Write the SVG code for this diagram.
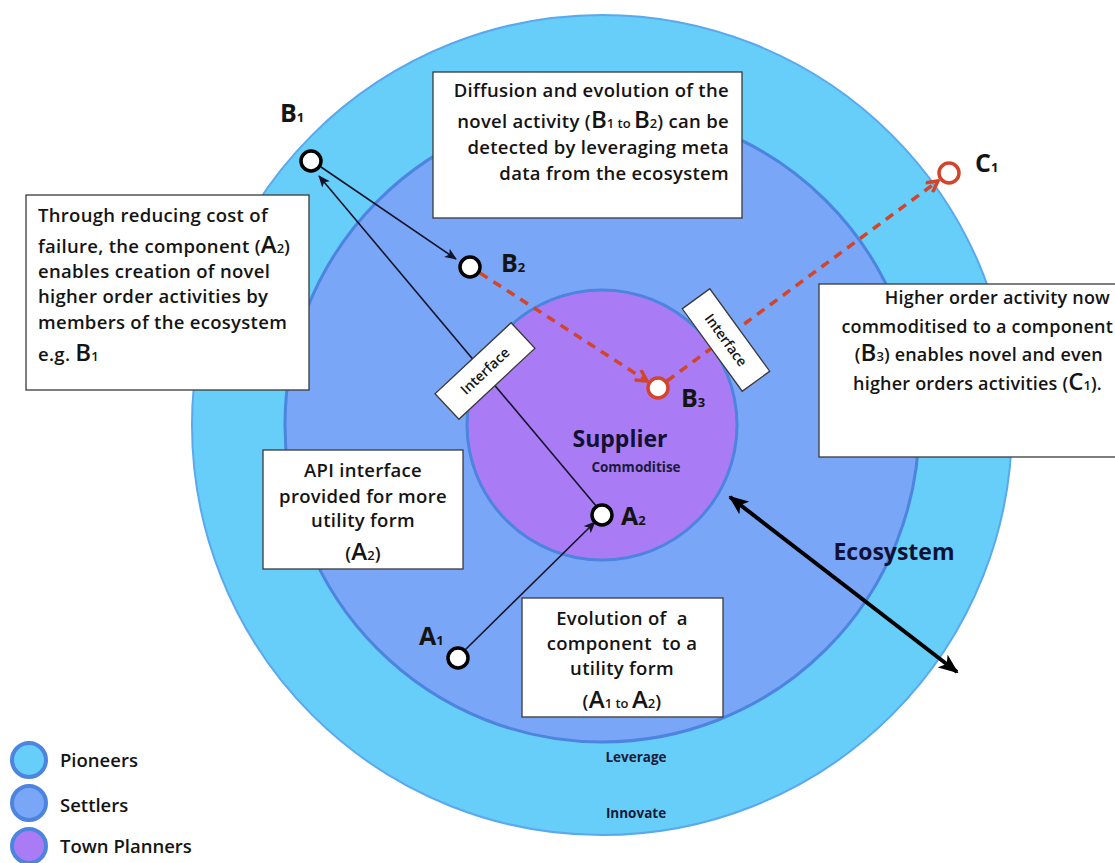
<svg xmlns="http://www.w3.org/2000/svg" width="1115" height="863" viewBox="0 0 1115 863">
<style>
text { font-family: "Open Sans", Lato, "Liberation Sans", sans-serif; fill: #141414; font-weight: 600; }
.body { font-size: 18.5px; letter-spacing: 0.3px; }
.rbody { font-size: 18px; letter-spacing: 0.2px; }
.big { font-size: 24px; letter-spacing: 0; }
.sub { font-size: 13px; letter-spacing: 0; }
.box { fill: #ffffff; stroke: #3a3a3a; stroke-width: 1.3; }
.node { fill: #ffffff; stroke: #000000; stroke-width: 3.5; }
.rnode { fill: #ffffff; stroke: #d2452b; stroke-width: 3.5; }
.lbl { font-size: 25px; font-weight: 700; }
.lsub { font-size: 13px; font-weight: 700; }
.conn { stroke: #14142a; stroke-width: 1.6; fill: none; }
.red { stroke: #d2452b; stroke-width: 3.5; stroke-dasharray: 9 7; fill: none; }
.eco { stroke: #000; stroke-width: 4; fill: none; }
.ring { stroke: #4c84df; stroke-width: 3; }
.cap { font-size: 13.5px; font-weight: 700; fill: #1b1b3a; }
.head { font-size: 23px; font-weight: 700; fill: #111133; }
.leg { font-size: 18.5px; }
</style>
<defs>
<marker id="ah" viewBox="0 0 12 10" refX="11" refY="5" markerWidth="12" markerHeight="10" markerUnits="userSpaceOnUse" orient="auto">
<path d="M0,0 L12,5 L0,10 L3,5 z" fill="#14142a"/>
</marker>
<marker id="rh" viewBox="0 0 14 14" refX="12" refY="7" markerWidth="14" markerHeight="14" markerUnits="userSpaceOnUse" orient="auto">
<path d="M1,1 L12,7 L1,13" fill="none" stroke="#d2452b" stroke-width="3.5"/>
</marker>
<marker id="eh" viewBox="0 0 20 16" refX="18" refY="8" markerWidth="20" markerHeight="16" markerUnits="userSpaceOnUse" orient="auto-start-reverse">
<path d="M0,0 L20,8 L0,16 L5,8 z" fill="#000"/>
</marker>
</defs>

<g id="rings">
<circle id="ring-pioneers" cx="602" cy="425" r="410" fill="#66cef8" stroke="#5aa8ee" stroke-width="2"/>
<circle id="ring-settlers" class="ring" cx="602" cy="425" r="317" fill="#7aa6f8"/>
<circle id="ring-town-planners" class="ring" cx="602" cy="425" r="135" fill="#a97cf5"/>
</g>

<g id="ring-labels">
<text class="head" x="620" y="447" text-anchor="middle">Supplier</text>
<text class="cap" x="636" y="472" text-anchor="middle">Commoditise</text>
<text class="cap" x="636" y="762" text-anchor="middle">Leverage</text>
<text class="cap" x="636" y="818" text-anchor="middle">Innovate</text>
<text class="head" x="894" y="560" text-anchor="middle">Ecosystem</text>
</g>

<g id="connectors">
<line class="conn" x1="464" y1="651" x2="595" y2="522" marker-end="url(#ah)"/>
<line class="conn" x1="597" y1="507" x2="319" y2="176" marker-end="url(#ah)"/>
<line class="conn" x1="321" y1="167" x2="456" y2="259" marker-end="url(#ah)"/>
<line class="red" x1="480" y1="273" x2="647" y2="381" marker-end="url(#rh)"/>
<line class="red" x1="667" y1="381" x2="938" y2="181" marker-end="url(#rh)"/>
<line class="eco" x1="730" y1="497" x2="957" y2="672" marker-start="url(#eh)" marker-end="url(#eh)"/>
</g>

<g id="interface-left" transform="translate(485,371) rotate(-43)">
<rect class="box" x="-52" y="-17.5" width="104" height="35"/>
<text x="0" y="5" font-size="14" text-anchor="middle">Interface</text>
</g>
<g id="interface-right" transform="translate(726,340) rotate(54)">
<rect class="box" x="-51" y="-17" width="102" height="34"/>
<text x="0" y="5" font-size="14" text-anchor="middle">Interface</text>
</g>

<g id="node-B1">
<circle class="node" cx="311" cy="161" r="10"/>
<text class="lbl" x="280" y="122">B<tspan class="lsub">1</tspan></text>
</g>
<g id="node-B2">
<circle class="node" cx="470" cy="267" r="10"/>
<text class="lbl" x="501" y="272">B<tspan class="lsub">2</tspan></text>
</g>
<g id="node-B3">
<circle class="rnode" cx="658" cy="388" r="10"/>
<text class="lbl" x="681" y="407">B<tspan class="lsub">3</tspan></text>
</g>
<g id="node-C1">
<circle class="rnode" cx="949" cy="173" r="10"/>
<text class="lbl" x="975" y="172">C<tspan class="lsub">1</tspan></text>
</g>
<g id="node-A2">
<circle class="node" cx="602" cy="515" r="10"/>
<text class="lbl" x="621" y="525">A<tspan class="lsub">2</tspan></text>
</g>
<g id="node-A1">
<circle class="node" cx="458" cy="658" r="10"/>
<text class="lbl" x="419" y="645">A<tspan class="lsub">1</tspan></text>
</g>

<g id="note-failure">
<rect class="box" x="26" y="195" width="283" height="195"/>
<text class="body" x="38" y="222">Through reducing cost of</text>
<text class="body" x="38" y="253">failure, the component (<tspan class="big">A</tspan><tspan class="sub">2</tspan>)</text>
<text class="body" x="38" y="278">enables creation of novel</text>
<text class="body" x="38" y="303">higher order activities by</text>
<text class="body" x="38" y="329">members of the ecosystem</text>
<text class="body" x="38" y="361">e.g. <tspan class="big">B</tspan><tspan class="sub">1</tspan></text>
</g>

<g id="note-diffusion">
<rect class="box" x="433" y="72" width="309" height="146"/>
<text class="body" x="729" y="97" text-anchor="end">Diffusion and evolution of the</text>
<text class="body" x="729" y="128" text-anchor="end">novel activity (<tspan class="big">B</tspan><tspan class="sub">1 to </tspan><tspan class="big">B</tspan><tspan class="sub">2</tspan>) can be</text>
<text class="body" x="729" y="154" text-anchor="end">detected by leveraging meta</text>
<text class="body" x="729" y="180" text-anchor="end">data from the ecosystem</text>
</g>

<g id="note-higher-order">
<rect class="box" x="819" y="284" width="310" height="173"/>
<text class="rbody" x="1110" y="304" text-anchor="end">Higher order activity now</text>
<text class="rbody" x="1113" y="333" text-anchor="end">commoditised to a component</text>
<text class="rbody" x="1103" y="361" text-anchor="end">(<tspan class="big">B</tspan><tspan class="sub">3</tspan>) enables novel and even</text>
<text class="rbody" x="1102" y="390" text-anchor="end">higher orders activities (<tspan class="big">C</tspan><tspan class="sub">1</tspan>).</text>
</g>

<g id="note-api">
<rect class="box" x="263" y="450" width="200" height="119"/>
<text class="body" x="363" y="477" text-anchor="middle">API interface</text>
<text class="body" x="363" y="503" text-anchor="middle">provided for more</text>
<text class="body" x="363" y="527" text-anchor="middle">utility form</text>
<text class="body" x="363" y="560" text-anchor="middle">(<tspan class="big">A</tspan><tspan class="sub">2</tspan>)</text>
</g>

<g id="note-evolution">
<rect class="box" x="522" y="598" width="201" height="119"/>
<text class="body" x="622" y="625" text-anchor="middle" xml:space="preserve">Evolution of  a</text>
<text class="body" x="622" y="650" text-anchor="middle" xml:space="preserve">component  to a</text>
<text class="body" x="622" y="675" text-anchor="middle">utility form</text>
<text class="body" x="622" y="708" text-anchor="middle">(<tspan class="big">A</tspan><tspan class="sub">1 to </tspan><tspan class="big">A</tspan><tspan class="sub">2</tspan>)</text>
</g>

<g id="legend">
<g id="legend-pioneers">
<circle cx="29" cy="760" r="17" fill="#66cef8" stroke="#4c84df" stroke-width="4"/>
<text class="leg" x="60" y="767">Pioneers</text>
</g>
<g id="legend-settlers">
<circle cx="29" cy="803" r="17" fill="#7aa6f8" stroke="#4c84df" stroke-width="4"/>
<text class="leg" x="60" y="812">Settlers</text>
</g>
<g id="legend-town-planners">
<circle cx="29" cy="846" r="17" fill="#a97cf5" stroke="#4c84df" stroke-width="4"/>
<text class="leg" x="60" y="853">Town Planners</text>
</g>
</g>
</svg>
